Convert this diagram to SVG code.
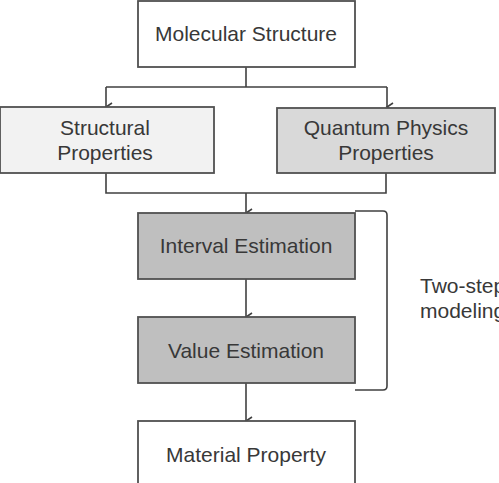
<svg xmlns="http://www.w3.org/2000/svg" width="499" height="483" viewBox="0 0 499 483">
<style>
.box{stroke:#505050;stroke-width:1.8}
.t{font-family:"Liberation Sans",Arial,sans-serif;font-size:21px;fill:#383838;text-anchor:middle}
.c{fill:none;stroke:#404040;stroke-width:1.6}
</style>
<defs>
<marker id="ah" markerWidth="10" markerHeight="10" refX="5" refY="7" orient="auto-start-reverse" markerUnits="userSpaceOnUse" viewBox="0 0 10 10">
<path d="M1,1 L5,7 L9,1" fill="none" stroke="#404040" stroke-width="1.6"/>
</marker>
</defs>
<rect width="499" height="483" fill="#fff"/>
<g id="connectors">
<path class="c" d="M246,67 V87 M106,87 H387" />
<path class="c" d="M106,87 V107" marker-end="url(#ah)"/>
<path class="c" d="M387,87 V107" marker-end="url(#ah)"/>
<path class="c" d="M106,173 V193 H386 V173 M246,193 V213" marker-end="url(#ah)"/>
<path class="c" d="M246,279 V317" marker-end="url(#ah)"/>
<path class="c" d="M246,383 V421" marker-end="url(#ah)"/>
</g>
<g id="molecular">
<rect class="box" x="138" y="1" width="217" height="66" fill="#fff"/>
<text class="t" x="246" y="41">Molecular Structure</text>
</g>
<g id="structural">
<rect class="box" x="0" y="107" width="214" height="66" fill="#f2f2f2"/>
<text class="t" x="105" y="135">Structural</text>
<text class="t" x="105" y="160">Properties</text>
</g>
<g id="quantum">
<rect class="box" x="277" y="108" width="218" height="65" fill="#d9d9d9"/>
<text class="t" x="386" y="135">Quantum Physics</text>
<text class="t" x="386" y="160">Properties</text>
</g>
<g id="interval">
<rect class="box" x="138" y="213" width="217" height="66" fill="#bfbfbf"/>
<text class="t" x="246" y="253">Interval Estimation</text>
</g>
<g id="value">
<rect class="box" x="138" y="317" width="217" height="66" fill="#bfbfbf"/>
<text class="t" x="246" y="358">Value Estimation</text>
</g>
<g id="material">
<rect class="box" x="138" y="421" width="217" height="70" fill="#fff"/>
<text class="t" x="246" y="462">Material Property</text>
</g>
<g id="bracket">
<path class="c" d="M355,211 H383 Q387,211 387,215 V386 Q387,390 383,390 H355"/>
<text class="t" x="420" y="293" style="text-anchor:start">Two-step</text>
<text class="t" x="420" y="318" style="text-anchor:start">modeling</text>
</g>
</svg>
